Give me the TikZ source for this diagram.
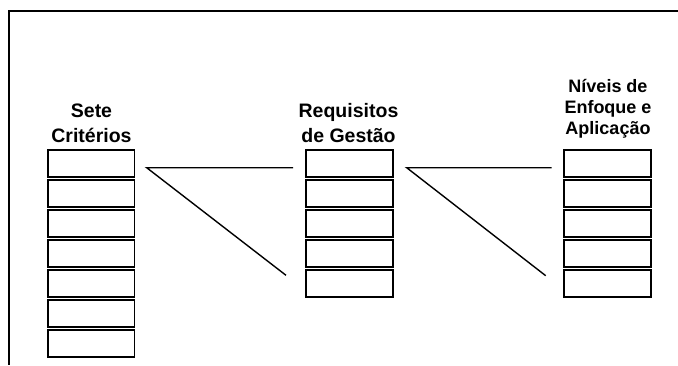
\documentclass[tikz,border=0pt]{standalone}
\usepackage{fontspec}
\setmainfont{Liberation Sans}
\begin{document}
\begin{tikzpicture}[x=1pt,y=-1pt,
  cell/.style={draw, line width=1.8pt, rectangle, minimum width=86.8pt, minimum height=26.4pt, inner sep=0pt},
  link/.style={line width=1.4pt},
  frame/.style={line width=1.8pt},
  head/.style={font=\bfseries\fontsize{19.5}{25}\selectfont, align=center, inner sep=0pt, anchor=south, text depth=0pt},
  headsmall/.style={font=\bfseries\fontsize{18}{21}\selectfont, align=center, inner sep=0pt, anchor=south, text depth=0pt}]
\useasboundingbox (0,0) rectangle (678,365);
% open frame: top and left edges
\coordinate (ftl) at (9,11);
\coordinate (ftr) at (678,11);
\coordinate (fbl) at (9,365);
\draw[frame] (ftr) -- (ftl) -- (fbl);
% first column: seven criteria
\foreach \i in {1,...,7}
  \node[cell] (a\i) at (91,{163.4+(\i-1)*30}) {};
% second column: management requirements
\foreach \i in {1,...,5}
  \node[cell] (b\i) at (349.2,{163.4+(\i-1)*30}) {};
% third column: levels
\foreach \i in {1,...,5}
  \node[cell] (c\i) at (607.2,{163.4+(\i-1)*30}) {};
% headings
\node[head] (ha) at (91.5,142.3) {Sete\\Critérios};
\node[head] (hb) at (348.5,142.3) {Requisitos\\de Gestão};
\node[headsmall] (hc) at (608,135) {Níveis de\\Enfoque e\\Aplicação};
% fan between the columns
\coordinate (p1) at (146.7,167.7);
\coordinate (q1) at (293,167.7);
\coordinate (r1) at (286,275.3);
\draw[link] (q1) -- (p1) -- (r1);
\coordinate (p2) at (406.7,167.7);
\coordinate (q2) at (551.7,167.7);
\coordinate (r2) at (545.7,275.7);
\draw[link] (q2) -- (p2) -- (r2);
\end{tikzpicture}
\end{document}
